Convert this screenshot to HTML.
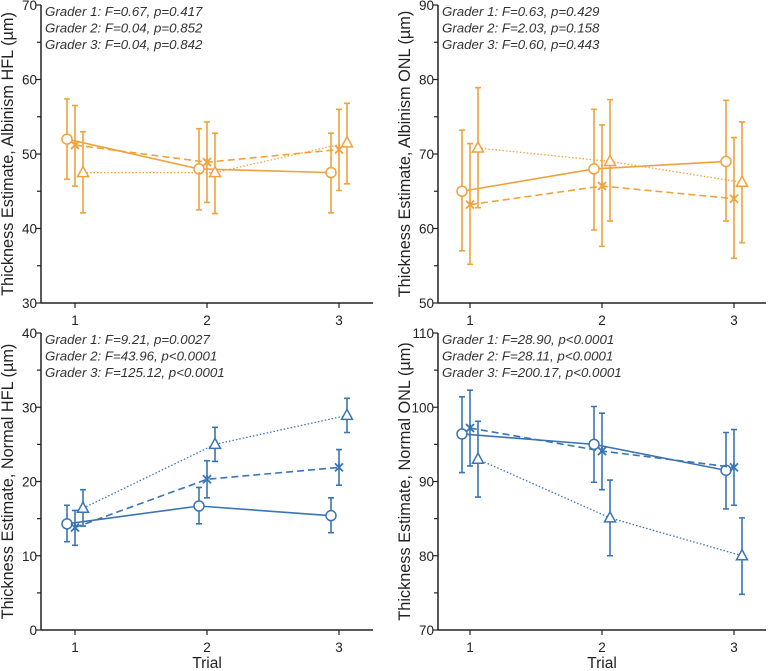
<!DOCTYPE html>
<html><head><meta charset="utf-8"><style>
body{margin:0;background:#fff;}
svg{display:block;font-family:"Liberation Sans",sans-serif;}
</style></head><body>
<svg id="c" width="769" height="671"></svg>
<script>
const trials=[1,2,3];
const offsets=[-8,0,8];
const titles=["Thickness Estimate, Albinism HFL (\u00b5m)","Thickness Estimate, Albinism ONL (\u00b5m)","Thickness Estimate, Normal HFL (\u00b5m)","Thickness Estimate, Normal ONL (\u00b5m)"];
const yTicksTL=[30,40,50,60,70];
const yTicksTR=[50,60,70,80,90];
const yTicksBL=[0,10,20,30,40];
const yTicksBR=[70,80,90,100,110];
const annTL=["Grader 1: F=0.67, p=0.417","Grader 2: F=0.04, p=0.852","Grader 3: F=0.04, p=0.842"];
const annTR=["Grader 1: F=0.63, p=0.429","Grader 2: F=2.03, p=0.158","Grader 3: F=0.60, p=0.443"];
const annBL=["Grader 1: F=9.21, p=0.0027","Grader 2: F=43.96, p<0.0001","Grader 3: F=125.12, p<0.0001"];
const annBR=["Grader 1: F=28.90, p<0.0001","Grader 2: F=28.11, p<0.0001","Grader 3: F=200.17, p<0.0001"];
const tlMean=[[52,48,47.5],[51.2,48.9,50.6],[47.5,47.5,51.5]];
const tlHi=[[57.4,53.4,52.8],[56.5,54.3,56],[53,52.8,56.8]];
const tlLo=[[46.6,42.5,42.1],[45.7,43.5,45.1],[42.1,42,46]];
const trMean=[[65,68,69],[63.2,65.7,64],[70.8,69,66.2]];
const trHi=[[73.2,76,77.2],[71.4,73.9,72.2],[78.9,77.3,74.3]];
const trLo=[[57,59.8,61],[55.2,57.6,56],[62.8,61,58.1]];
const blMean=[[14.3,16.7,15.4],[13.8,20.3,21.9],[16.4,25,28.9]];
const blHi=[[16.8,19.2,17.8],[16.1,22.8,24.3],[18.9,27.3,31.2]];
const blLo=[[11.9,14.3,13.1],[11.4,17.8,19.5],[14,22.7,26.6]];
const brMean=[[96.4,95,91.5],[97.2,94.1,91.9],[93,85.1,80]];
const brHi=[[101.4,100.1,96.6],[102.3,99.2,97],[98.1,90.2,85.1]];
const brLo=[[91.2,89.9,86.3],[92.1,88.9,86.8],[87.9,80,74.8]];

const NS="http://www.w3.org/2000/svg";
const svg=document.getElementById('c');
function mk(tag,attrs,parent,txt){const e=document.createElementNS(NS,tag);for(const k in attrs)e.setAttribute(k,attrs[k]);if(txt!==undefined)e.textContent=txt;(parent||svg).appendChild(e);return e;}

const panels=[
 {ax:41,x0:75,top:5,bot:303,right:373,ticks:yTicksTL,ann:annTL,mean:tlMean,hi:tlHi,lo:tlLo,col:"#f0a23c",title:titles[0],name:"albinism-hfl",trial:false},
 {ax:438,x0:470,top:5,bot:303,right:766,ticks:yTicksTR,ann:annTR,mean:trMean,hi:trHi,lo:trLo,col:"#f0a23c",title:titles[1],name:"albinism-onl",trial:false},
 {ax:41,x0:75,top:333,bot:630,right:373,ticks:yTicksBL,ann:annBL,mean:blMean,hi:blHi,lo:blLo,col:"#3a74b4",title:titles[2],name:"normal-hfl",trial:true},
 {ax:438,x0:470,top:333,bot:630,right:766,ticks:yTicksBR,ann:annBR,mean:brMean,hi:brHi,lo:brLo,col:"#3a74b4",title:titles[3],name:"normal-onl",trial:true}
];
const dashes=["","7,4","1.5,2"];
panels.forEach(p=>{
  const g=mk('g',{});
  
  
  const ymin=p.ticks[0],ymax=p.ticks[p.ticks.length-1];
  const ys=v=>p.bot-(v-ymin)/(ymax-ymin)*(p.bot-p.top);
  const xs=(t,gi)=>p.x0+(t-1)*132+offsets[gi];
  const axY=mk('line',{x1:p.ax,y1:p.top,x2:p.ax,y2:p.bot,stroke:"#222","stroke-width":1.5},g);
  
  
  const axX=mk('line',{x1:p.ax,y1:p.bot,x2:p.right,y2:p.bot,stroke:"#222","stroke-width":1.5},g);
  
  
  p.ticks.forEach((v,i)=>{
    mk('line',{x1:p.ax-5,y1:ys(v),x2:p.ax,y2:ys(v),stroke:"#222","stroke-width":1.2},g);
    const t=mk('text',{x:p.ax-4,y:ys(v)+5,"text-anchor":"end","font-size":13.5,fill:"#222"},g,String(v));
    
    
    if(i<p.ticks.length-1){const m=(v+p.ticks[i+1])/2;mk('line',{x1:p.ax-4,y1:ys(m),x2:p.ax,y2:ys(m),stroke:"#222","stroke-width":1.2},g);}
  });
  trials.forEach(t=>{
    const x=p.x0+(t-1)*132;
    mk('line',{x1:x,y1:p.bot,x2:x,y2:p.bot+5,stroke:"#222","stroke-width":1.2},g);
    const tl=mk('text',{x:x,y:p.bot+22,"text-anchor":"middle","font-size":13.5,fill:"#222"},g,String(t));
    
    
  });
  const cy=(p.top+p.bot)/2;
  const yt=mk('text',{x:0,y:0,transform:`translate(${p.ax-28},${cy}) rotate(-90)`,"text-anchor":"middle","font-size":16.3,fill:"#222"},g,p.title);
  
  
  if(p.trial){
    const xt=mk('text',{x:p.x0+132,y:668,"text-anchor":"middle","font-size":15.5,fill:"#222"},g,"Trial");
    
    
  }
  p.ann.forEach((a,i)=>{
    const at=mk('text',{x:p.ax+4,y:p.top+11+i*16.5,"font-size":13.3,"font-style":"italic",fill:"#333"},g,a);
    
    
  });
  for(let gi=0;gi<3;gi++){
    const pts=trials.map((t,i)=>[xs(t,gi),ys(p.mean[gi][i])]);
    const ln=mk('polyline',{points:pts.map(q=>q.join(',')).join(' '),fill:"none",stroke:p.col,"stroke-width":gi==2?1.3:1.6,"stroke-dasharray":dashes[gi]},g);
    
    
    trials.forEach((t,i)=>{
      const x=xs(t,gi),yh=ys(p.hi[gi][i]),yl=ys(p.lo[gi][i]),y=ys(p.mean[gi][i]);
      const eb=mk('path',{d:`M${x},${yh}V${yl}M${x-3},${yh}H${x+3}M${x-3},${yl}H${x+3}`,stroke:p.col,"stroke-width":1.6,fill:"none"},g);
      
      
      let m;
      if(gi==0) m=mk('circle',{cx:x,cy:y,r:5,fill:"#fff",stroke:p.col,"stroke-width":1.5},g);
      else if(gi==1) m=mk('path',{d:`M${x-4},${y-4}L${x+4},${y+4}M${x-4},${y+4}L${x+4},${y-4}M${x},${y-4}V${y+1}`,stroke:p.col,"stroke-width":1.8,fill:"none"},g);
      else m=mk('path',{d:`M${x},${y-6}L${x+5.5},${y+4}L${x-5.5},${y+4}Z`,fill:"#fff",stroke:p.col,"stroke-width":1.5},g);
      
      
    });
  }
});
</script>
</body></html>
